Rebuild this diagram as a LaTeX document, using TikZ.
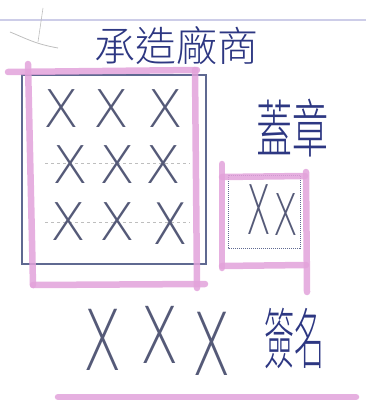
\documentclass[tikz,border=0pt]{standalone}
\usepackage{fontspec}
\IfFontExistsTF{Noto Sans CJK TC Light}
  {\newfontfamily\cjk{Noto Sans CJK TC Light}}
  {\newfontfamily\cjk{Noto Sans CJK TC}}
\IfFontExistsTF{DejaVuSans-ExtraLight.ttf}
  {\newfontfamily\xfont{DejaVuSans-ExtraLight.ttf}}
  {\IfFontExistsTF{DejaVu Sans ExtraLight}
    {\newfontfamily\xfont{DejaVu Sans ExtraLight}}
    {\newfontfamily\xfont{DejaVu Sans}}}
\definecolor{penblue}{RGB}{45,55,130}
\definecolor{boxblue}{RGB}{95,105,145}
\definecolor{hlpink}{RGB}{226,162,218}
\definecolor{ruleline}{RGB}{205,205,232}
\definecolor{pencil}{RGB}{190,190,190}
\definecolor{xgray}{RGB}{85,90,120}
\tikzset{
  pink/.style={draw=hlpink, line width=6.5pt, line cap=round, opacity=0.85},
  hand/.style={text=penblue, inner sep=0pt, transform shape},
  xmark/.style={text=xgray, inner sep=0pt, font=\xfont\fontsize{52}{52}\selectfont, transform shape},
}
\begin{document}
\begin{tikzpicture}[x=1pt,y=-1pt]
\useasboundingbox (0,0) rectangle (366,406);
% ruled line
\draw[ruleline, line width=1.5pt] (0,20) -- (366,20);
% pencil marks
\draw[pencil, line width=0.8pt] (10,32) .. controls (25,38) and (35,44) .. (58,48);
\draw[pencil, line width=0.6pt] (43,8) -- (38,42);
% title
\node[hand, font=\cjk\fontsize{41}{41}\selectfont] (title) at (176,46) {承造廠商};
% main blue box
\draw[boxblue, line width=1.3pt] (22,75) rectangle (206,264);
% faint grid dashes
\draw[pencil, dashed, line width=0.6pt] (45,163) -- (190,163);
\draw[pencil, dashed, line width=0.6pt] (45,222) -- (190,222);
% 3x3 X marks
\node[xmark] (x11) at (61,109) {X};
\node[xmark] (x12) at (111,109) {X};
\node[xmark] (x13) at (165,109) {X};
\node[xmark] (x21) at (70,165) {X};
\node[xmark] (x22) at (117,165) {X};
\node[xmark] (x23) at (163,165) {X};
\node[xmark] (x31) at (68,222) {X};
\node[xmark] (x32) at (117,222) {X};
\node[xmark, yscale=1.1] (x33) at (170,224) {X};
% pink frame around main box
\draw[pink] (8,72) -- (197,70);
\draw[pink] (28,64) -- (33,285);
\draw[pink] (33,285) -- (205,284);
\draw[pink] (195,70) -- (197,288);
% stamp label
\node[hand, font=\cjk\fontsize{36}{36}\selectfont, yscale=1.75] (stamp) at (292,128) {蓋章};
% small stamp box
\draw[boxblue, line width=1.0pt, densely dotted] (228,175) rectangle (300,248);
\node[xmark, font=\xfont\fontsize{36}{36}\selectfont, yscale=1.9] (sx1) at (259,210) {X};
\node[xmark, font=\xfont\fontsize{36}{36}\selectfont, yscale=1.6] (sx2) at (286,215) {X};
\draw[pink] (222,164) -- (222,268);
\draw[pink] (222,177) -- (305,176);
\draw[pink] (222,266) -- (306,265);
\draw[pink] (306,172) -- (307,292);
% signature line
\node[xmark, font=\xfont\fontsize{56}{56}\selectfont, yscale=1.5] (s1) at (103,340) {X};
\node[xmark, font=\xfont\fontsize{56}{56}\selectfont, yscale=1.4] (s2) at (160,335) {X};
\node[xmark, font=\xfont\fontsize{56}{56}\selectfont, yscale=1.55] (s3) at (212,344) {X};
\node[hand, font=\cjk\fontsize{30}{30}\selectfont, yscale=2.2] (sign) at (294,338) {簽名};
\draw[pink] (58,397) -- (356,397);
\end{tikzpicture}
\end{document}
